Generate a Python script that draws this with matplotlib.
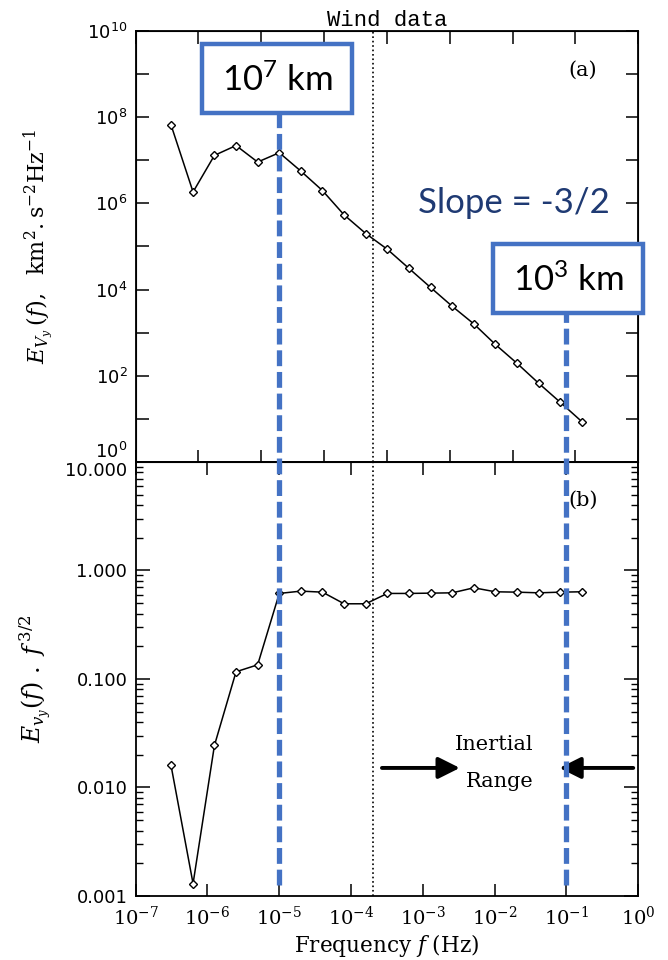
import matplotlib
matplotlib.use("Agg")
import matplotlib.pyplot as plt
import numpy as np
from matplotlib.patches import Rectangle
from matplotlib.lines import Line2D
from matplotlib.ticker import LogLocator, FixedLocator, FixedFormatter, NullLocator, NullFormatter
import matplotlib.transforms as mtransforms

plt.rcParams['mathtext.fontset'] = 'dejavuserif'
# used only by the box labels (math_fontfamily='custom')
plt.rcParams['mathtext.rm'] = 'Lato'

# Data (f in Hz)
freq = [3.1e-7, 6.3e-7, 1.25e-6, 2.5e-6, 5.0e-6, 1.0e-5, 2.0e-5, 4.0e-5, 8.0e-5, 1.6e-4,
        3.2e-4, 6.4e-4, 1.28e-3, 2.56e-3, 5.12e-3, 1.02e-2, 2.05e-2, 4.1e-2, 8.2e-2, 0.164]
energy = [6.7e7, 1.84e6, 1.3e7, 2.2e7, 9.1e6, 1.5e7, 5.6e6, 1.98e6, 5.4e5, 2.0e5,
          8.6e4, 3.1e4, 1.12e4, 4.1e3, 1.6e3, 535, 194, 67, 24.2, 8.6]
compensated = [0.0161, 0.0013, 0.0244, 0.1165, 0.135, 0.614, 0.645, 0.631, 0.493, 0.493,
               0.614, 0.614, 0.618, 0.622, 0.692, 0.636, 0.631, 0.622, 0.631, 0.636]

scale_freqs = [1e-5, 1e-1]          # blue dashed markers
scale_labels = [r'$\mathrm{10^{7}}$ km', r'$\mathrm{10^{3}}$ km']
dotted_freq = 2e-4

xticks = [1e-7, 1e-6, 1e-5, 1e-4, 1e-3, 1e-2, 1e-1, 1e0]
xticklabels = [r'$10^{-7}$', r'$10^{-6}$', r'$10^{-5}$', r'$10^{-4}$',
               r'$10^{-3}$', r'$10^{-2}$', r'$10^{-1}$', r'$10^{0}$']
top_yticks = [1e0, 1e2, 1e4, 1e6, 1e8, 1e10]
top_yticklabels = [r'$\mathsf{10^{0}}$', r'$\mathsf{10^{2}}$', r'$\mathsf{10^{4}}$',
                   r'$\mathsf{10^{6}}$', r'$\mathsf{10^{8}}$', r'$\mathsf{10^{10}}$']
bot_yticks = [0.001, 0.01, 0.1, 1.0, 10.0]
bot_yticklabels = ['0.001', '0.010', '0.100', '1.000', '10.000']

blue = '#4472C4'
serif = 'DejaVu Serif'

fig = plt.figure(figsize=(6.68, 9.6), dpi=100)
L, W = 0.2031, 0.7524
ax1 = fig.add_axes([L, 0.5188, W, 0.4489])
ax2 = fig.add_axes([L, 0.0667, W, 0.4521])

# ---- top panel
ax1.plot(freq, energy, '-', color='black', lw=1.1, marker='D', ms=4.5,
         mfc='white', mec='black', mew=1.0)
ax1.set_xscale('log')
ax1.set_yscale('log')
ax1.set_xlim(1e-7, 1e0)
ax1.set_ylim(1e0, 1e10)
ax1.xaxis.set_major_locator(NullLocator())
ax1.xaxis.set_minor_locator(NullLocator())
ax1.yaxis.set_major_locator(FixedLocator(top_yticks))
ax1.yaxis.set_major_formatter(FixedFormatter(top_yticklabels))
ax1.yaxis.set_minor_locator(FixedLocator([1e1, 1e3, 1e5, 1e7, 1e9]))
ax1.yaxis.set_minor_formatter(NullFormatter())
ax1.tick_params(axis='y', which='both', direction='in', left=True, right=True,
                length=9, width=1.1, labelsize=13, pad=6)
ax1.axvline(dotted_freq, color='black', ls=':', lw=1.2)
ax1.set_title('Wind data', family='Liberation Mono', fontsize=16, pad=3)
ax1.text(0.89, 0.909, '(a)', transform=ax1.transAxes, family=serif, fontsize=15,
         ha='center', va='center')
ax1.set_ylabel(r'$E_{V_y}\,(f),\ \ \mathrm{km^2.s^{-2}Hz^{-1}}$', fontsize=16)
ax1.yaxis.set_label_coords(-0.158, 0.5)

# secondary tick scale on the top panel
axt = ax1.twiny()
axt.set_xscale('log')
axt.set_xlim(1e-7, 1e1)
axt.xaxis.set_major_locator(LogLocator(base=10, numticks=20))
axt.xaxis.set_minor_locator(NullLocator())
axt.tick_params(axis='x', which='both', direction='in', top=True, bottom=True,
                labeltop=False, labelbottom=False, length=9, width=1.1)

# ---- bottom panel
ax2.plot(freq, compensated, '-', color='black', lw=1.1, marker='D', ms=4.5,
         mfc='white', mec='black', mew=1.0)
ax2.set_xscale('log')
ax2.set_yscale('log')
ax2.set_xlim(1e-7, 1e0)
ax2.set_ylim(1e-3, 1e1)
ax2.xaxis.set_major_locator(FixedLocator(xticks))
ax2.xaxis.set_major_formatter(FixedFormatter(xticklabels))
ax2.xaxis.set_minor_locator(NullLocator())
ax2.yaxis.set_major_locator(FixedLocator(bot_yticks))
ax2.yaxis.set_major_formatter(FixedFormatter(bot_yticklabels))
ax2.yaxis.set_minor_locator(LogLocator(base=10, subs=np.arange(2, 10), numticks=20))
ax2.yaxis.set_minor_formatter(NullFormatter())
ax2.tick_params(axis='x', which='both', direction='in', top=True, bottom=True,
                length=9, width=1.1, labelsize=14, pad=7)
ax2.tick_params(axis='y', which='major', direction='in', left=True, right=True,
                length=10, width=1.1, labelsize=13, pad=6)
ax2.tick_params(axis='y', which='minor', direction='in', left=True, right=True,
                length=5, width=1.0)
ax2.axvline(dotted_freq, color='black', ls=':', lw=1.2)
ax2.text(0.89, 0.912, '(b)', transform=ax2.transAxes, family=serif, fontsize=15,
         ha='center', va='center')
ax2.set_xlabel(r'Frequency $f$ (Hz)', family=serif, fontsize=15.5, labelpad=2)
ax2.set_ylabel(r'$E_{v_y}(f)\ .\ f^{\,3/2}$', fontsize=17)
ax2.yaxis.set_label_coords(-0.165, 0.5)

# keep 10^0 and 10.000 apart where the panels meet
fig.canvas.draw()
ax1.get_yticklabels()[0].set_verticalalignment('bottom')
ax2.get_yticklabels()[-1].set_verticalalignment('top')

# Inertial range arrows
arrow_style = '-|>,head_length=1.3,head_width=0.65'
ax2.annotate('', xy=(0.645, 0.295), xytext=(0.49, 0.295), xycoords='axes fraction',
             arrowprops=dict(arrowstyle=arrow_style, color='black', lw=2.8,
                             shrinkA=0, shrinkB=0))
ax2.annotate('', xy=(0.843, 0.295), xytext=(0.99, 0.295), xycoords='axes fraction',
             arrowprops=dict(arrowstyle=arrow_style, color='black', lw=2.8,
                             shrinkA=0, shrinkB=0))
ax2.text(0.714, 0.35, 'Inertial', transform=ax2.transAxes, family=serif,
         fontsize=15, ha='center', va='center')
ax2.text(0.724, 0.263, 'Range', transform=ax2.transAxes, family=serif,
         fontsize=15, ha='center', va='center')

for ax in (ax1, ax2):
    for sp in ax.spines.values():
        sp.set_linewidth(1.3)

# ---- blue dashed scale markers spanning both panels
trans = mtransforms.blended_transform_factory(ax2.transData, fig.transFigure)
line_tops = [0.8823, 0.6823]
for f0, ytop in zip(scale_freqs, line_tops):
    fig.add_artist(Line2D([f0, f0], [0.078, ytop], transform=trans, color=blue,
                          lw=3.8, dashes=(3, 1.1), zorder=5))

box_pos = [(0.3024, 0.8823), (0.7380, 0.6740)]
for (bx, by), lab in zip(box_pos, scale_labels):
    fig.add_artist(Rectangle((bx, by), 0.2246, 0.0719, transform=fig.transFigure,
                             facecolor='white', edgecolor=blue, lw=3.2, zorder=6))
    fig.text(bx + 0.1123, by + 0.034, lab, family='Lato', math_fontfamily='custom',
             fontsize=25, ha='center', va='center', zorder=7)

fig.text(0.770, 0.7885, 'Slope = -3/2', family='Lato',
         fontsize=25, color='#1F3A73', ha='center', va='center')

fig.savefig('out.png', dpi=100)
